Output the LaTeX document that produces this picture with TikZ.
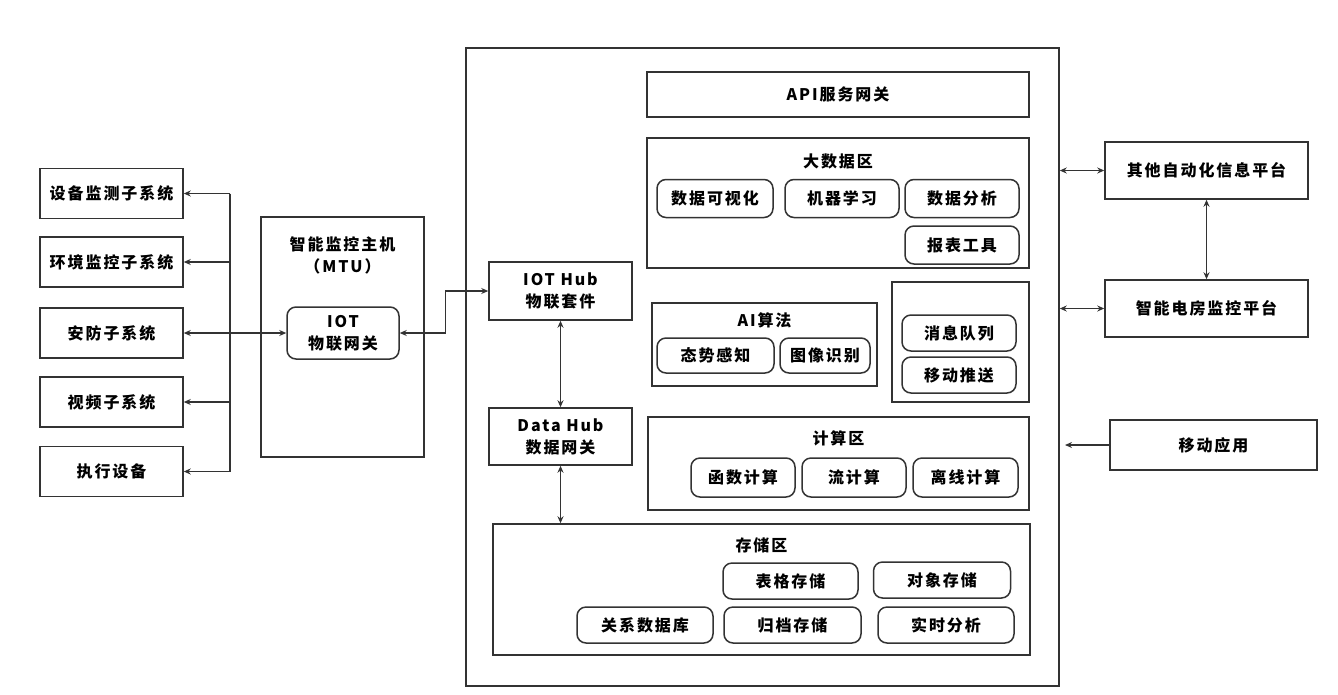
\documentclass[tikz,border=0pt]{standalone}
\usepackage{fontspec}
\setmainfont{Noto Sans CJK SC}[LetterSpace=12]
\usetikzlibrary{arrows.meta,positioning}

\begin{document}
\begin{tikzpicture}[
    x=1pt, y=-1pt,
    font=\fontsize{16}{22}\selectfont\bfseries,
    box/.style={rectangle, draw=black!80, line width=1.5pt, inner sep=0pt, align=center},
    sub/.style={box, minimum width=143, minimum height=50},
    pill/.style={box, rounded corners=9pt},
    title/.style={inner sep=0pt, align=center},
    line/.style={draw=black!80, line width=1.2pt},
    arr/.style={line, -{Stealth[length=7pt,width=6pt]}},
    biarr/.style={line, {Stealth[length=7pt,width=6pt]}-{Stealth[length=7pt,width=6pt]}}
]
    \useasboundingbox (0,0) rectangle (1338,694);

    % Subsystems
    \node[sub] (dev) at (111.5,193.5) {设备监测子系统};
    \node[sub] (env) at (111.5,262) {环境监控子系统};
    \node[sub] (sec) at (111.5,333) {安防子系统};
    \node[sub] (vid) at (111.5,402) {视频子系统};
    \node[sub] (act) at (111.5,471.5) {执行设备};

    % Monitoring host
    \node[box, minimum width=163, minimum height=240] (mtu) at (342.5,337) {};
    \node[title] (mtutitle) at (342.5,255) {智能监控主机\\（MTU）};
    \node[pill, minimum width=112, minimum height=52] (gw) at (343,333) {IOT\\物联网关};

    % Platform
    \node[box, minimum width=593, minimum height=638] (plat) at (762.5,367) {};
    \node[box, minimum width=143, minimum height=58] (hub) at (560.5,291) {IOT Hub\\物联套件};
    \node[box, minimum width=143, minimum height=57] (dhub) at (560.5,436.5) {Data Hub\\数据网关};
    \node[box, minimum width=382, minimum height=45] (api) at (838,94.5) {API服务网关};

    % Big data
    \node[box, minimum width=382, minimum height=130] (bigdata) at (838,203) {};
    \node[title] (bdtitle) at (838,161) {大数据区};
    \node[pill, minimum width=116, minimum height=38] (viz) at (715,198.5) {数据可视化};
    \node[pill, minimum width=114, minimum height=38] (ml) at (842,198.5) {机器学习};
    \node[pill, minimum width=114, minimum height=38] (ana) at (962,198.5) {数据分析};
    \node[pill, minimum width=114, minimum height=38] (rep) at (962,245) {报表工具};

    % AI
    \node[box, minimum width=225, minimum height=83] (ai) at (764.5,344.5) {};
    \node[title] (aititle) at (764.5,320) {AI算法};
    \node[pill, minimum width=117, minimum height=35] (sit) at (715.5,355.5) {态势感知};
    \node[pill, minimum width=90, minimum height=35] (img) at (825,355.5) {图像识别};

    % Messages
    \node[box, minimum width=137, minimum height=120] (msg) at (960.5,342) {};
    \node[pill, minimum width=114, minimum height=36] (mq) at (959,333) {消息队列};
    \node[pill, minimum width=114, minimum height=36] (push) at (959,375) {移动推送};

    % Computing
    \node[box, minimum width=381, minimum height=93] (calc) at (838.5,463.5) {};
    \node[title] (calctitle) at (838.5,438) {计算区};
    \node[pill, minimum width=104, minimum height=39] (fn) at (743,477.5) {函数计算};
    \node[pill, minimum width=104, minimum height=39] (st) at (854,477.5) {流计算};
    \node[pill, minimum width=105, minimum height=39] (off) at (965.5,477.5) {离线计算};

    % Storage
    \node[box, minimum width=537, minimum height=131] (store) at (761.5,589.5) {};
    \node[title] (storetitle) at (761.5,545) {存储区};
    \node[pill, minimum width=135, minimum height=36] (tab) at (790.5,581) {表格存储};
    \node[pill, minimum width=137, minimum height=36] (obj) at (942,580) {对象存储};
    \node[pill, minimum width=136, minimum height=36] (rdb) at (645,625) {关系数据库};
    \node[pill, minimum width=137, minimum height=36] (arc) at (792.5,625) {归档存储};
    \node[pill, minimum width=136, minimum height=36] (rt) at (946,625) {实时分析};

    % Upper systems
    \node[box, minimum width=203, minimum height=57] (other) at (1206.5,170.5) {其他自动化信息平台};
    \node[box, minimum width=203, minimum height=57] (smart) at (1206.5,308.5) {智能电房监控平台};
    \node[box, minimum width=207, minimum height=50] (mob) at (1213.5,445) {移动应用};

    % Links
    \coordinate (bus) at (230,0);
    \draw[line] (dev.east -| bus) -- (act.east -| bus);
    \foreach \n in {dev,env,vid,act}
        \draw[arr] (\n.east -| bus) -- (\n.east);
    \draw[biarr] (sec.east) -- (gw.west);
    \draw[biarr] (gw.east) -- ++(46,0) |- (hub.west);
    \draw[biarr] (hub.south) -- (dhub.north);
    \draw[biarr] (dhub.south) -- (dhub.south |- store.north);
    \draw[biarr] (plat.east |- other.west) -- (other.west);
    \draw[biarr] (plat.east |- smart.west) -- (smart.west);
    \draw[biarr] (other.south) -- (smart.north);
    \coordinate (mobend) at (1065,445);
    \draw[arr] (mob.west) -- (mobend);
\end{tikzpicture}
\end{document}
